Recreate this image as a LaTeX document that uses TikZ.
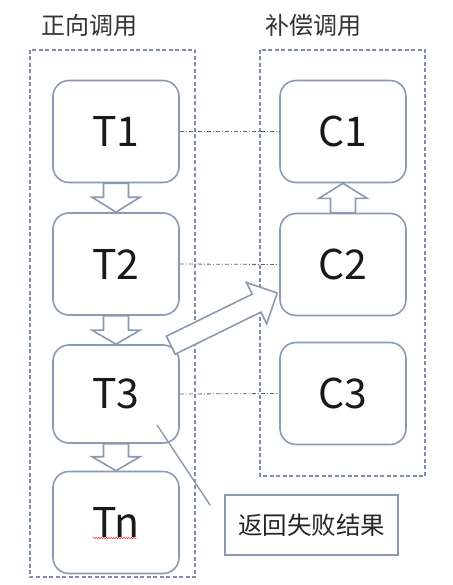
\documentclass[tikz,border=0pt]{standalone}
\usepackage{fontspec}
\setmainfont{Noto Sans CJK SC}
\usetikzlibrary{calc,decorations.pathmorphing}

\definecolor{boxline}{HTML}{8A9AB0}
\definecolor{frameline}{HTML}{7F8FA6}
\definecolor{linkline}{HTML}{5E646C}

% hollow block arrow: from, to, half shaft, half head, head length
\newcommand\hollowarrow[5]{%
  \coordinate (hb) at ($(#2)!#5!(#1)$);
  \draw[flow] ($(#1)!#3!90:(#2)$) -- ($(hb)!#3!-90:(#1)$) -- ($(hb)!#4!-90:(#1)$)
    -- (#2) -- ($(hb)!#4!90:(#1)$) -- ($(hb)!#3!90:(#1)$) -- ($(#1)!#3!-90:(#2)$) -- cycle;}

\begin{document}
\begin{tikzpicture}[x=1pt,y=-1pt,
    stepbox/.style={draw=boxline,line width=1.6pt,rounded corners=16pt,
      minimum width=126pt,minimum height=102pt,inner sep=0pt,
      font=\fontsize{41}{41}\selectfont,text=black!90},
    notebox/.style={draw=boxline,line width=1.6pt,minimum width=173pt,
      minimum height=60pt,font=\fontsize{24.5}{24.5}\selectfont,text=black!85},
    title/.style={font=\fontsize{24}{24}\selectfont,text=black!80},
    frame/.style={draw=frameline,line width=1.1pt,dash pattern=on 4pt off 2.5pt},
    flow/.style={draw=boxline,line width=1.6pt,fill=white,line join=miter},
    link/.style={draw=linkline,line width=0.8pt,dash pattern=on 4pt off 2pt on 1pt off 2pt},
    callout/.style={draw=boxline,line width=1.4pt},
    squiggle/.style={draw=red!80,line width=0.5pt,
      decorate,decoration={snake,amplitude=0.7pt,segment length=2.5pt}}]
  \useasboundingbox (0,0) rectangle (452,585);
  % titles
  \node[title] (fwd) at (89.5,25)  {正向调用};
  \node[title] (cmp) at (313.5,25) {补偿调用};
  % dashed groups
  \draw[frame] (30,50)  rectangle (195,577);
  \draw[frame] (260,50) rectangle (425,476);
  % forward calls
  \node[stepbox] (T1) at (116,131.5) {T1};
  \node[stepbox] (T2) at (116,264)   {T2};
  \node[stepbox,minimum height=98pt] (T3) at (116,394) {T3};
  \node[stepbox] (Tn) at (116,522.5) {Tn};
  \draw[squiggle] ($(Tn.center)+(-23,15.5)$) -- ++(44,0);
  % compensations
  \node[stepbox] (C1) at (343,131.5) {C1};
  \node[stepbox] (C2) at (343,264.5) {C2};
  \node[stepbox] (C3) at (343,393.5) {C3};
  % pairing
  \draw[link] (T1.east) -- (C1.west);
  \draw[link] (T2.east) -- (C2.west);
  \draw[link] (T3.east) -- (C3.west);
  % block arrows
  \hollowarrow{T1.south}{T2.north}{12.5pt}{24pt}{15pt}
  \hollowarrow{T2.south}{T3.north}{12.5pt}{24pt}{14pt}
  \hollowarrow{T3.south}{Tn.north}{12.5pt}{24pt}{14pt}
  \hollowarrow{C2.north}{C1.south}{12.5pt}{24pt}{15pt}
  \coordinate (fail) at ($(T3.north east)+(-9,1)$);
  \coordinate (back) at ($(C2.west)+(-2,28.5)$);
  \hollowarrow{fail}{back}{10pt}{23pt}{23pt}
  % failure note
  \node[notebox] (note) at (311.5,525) {返回失败结果};
  \coordinate (hint) at ($(T3.center)+(41,31)$);
  \draw[callout] (hint) -- ($(note.north west)+(-14,11)$);
\end{tikzpicture}
\end{document}
